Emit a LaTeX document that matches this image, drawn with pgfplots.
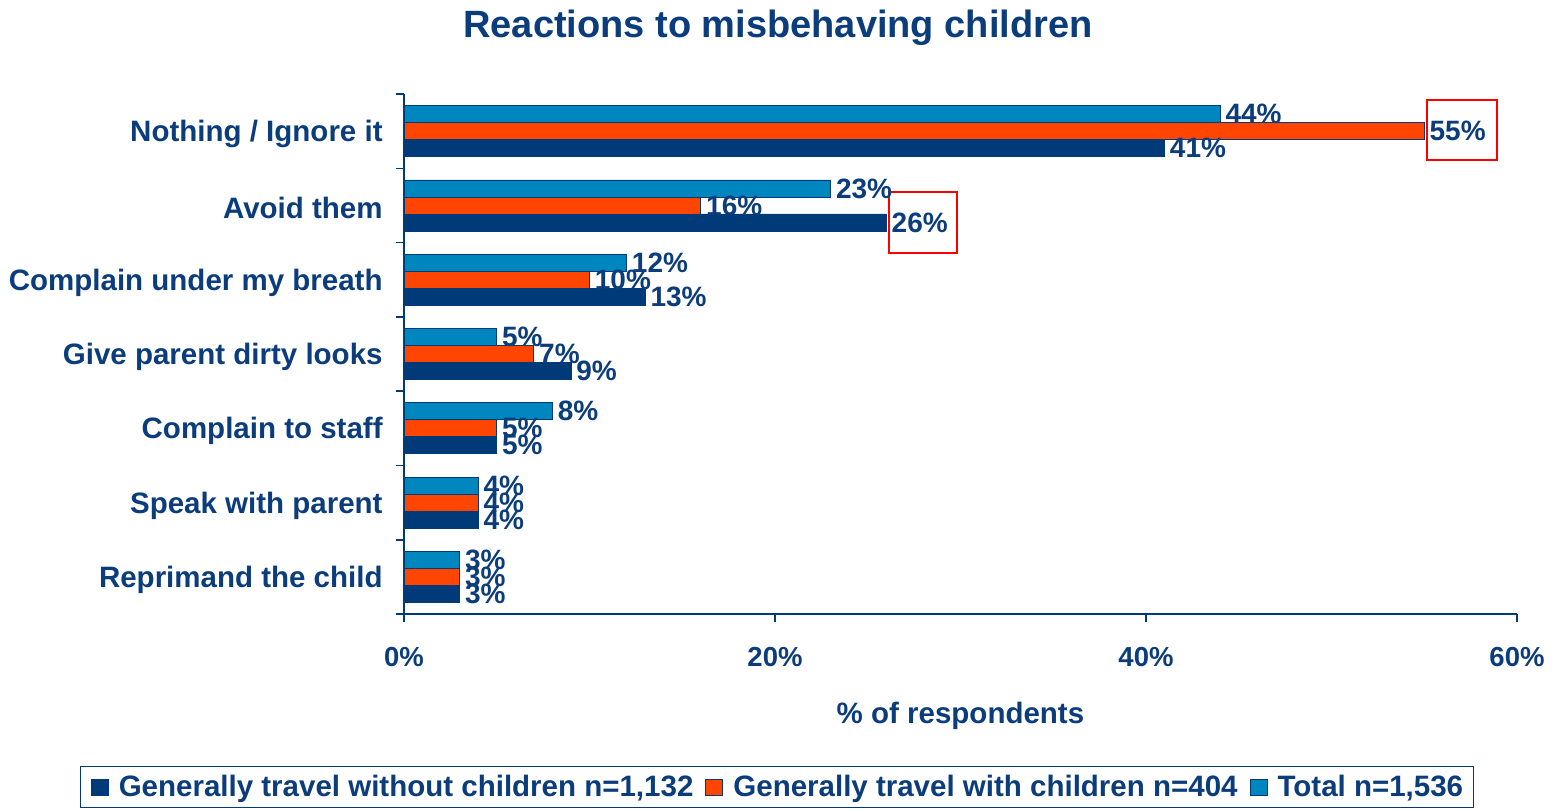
\documentclass[border=0pt]{standalone}
\usepackage{fontspec}
\setmainfont{Liberation Sans}
\usepackage{pgfplots}
\pgfplotsset{compat=1.18}
\definecolor{navy}{HTML}{003A78}
\definecolor{orng}{HTML}{FF4500}
\definecolor{blu}{HTML}{0086BF}
\definecolor{txt}{HTML}{0B3C7C}
\begin{document}
\begin{tikzpicture}
\useasboundingbox (-202pt,-97.5pt) rectangle (575.5pt,307pt);
\begin{axis}[
 at={(0,0)}, anchor=south west, scale only axis, width=556.5pt, height=260pt,
 /pgf/number format/assume math mode=true,
 xbar=0pt, bar width=8.5pt,
 xmin=0, xmax=60, ymin=-0.5, ymax=6.5,
 clip=false,
 axis lines*=left, axis line style={navy, line width=0.8pt},
 xtick={0,20,40,60}, xticklabel={\pgfmathprintnumber{\tick}\%},
 ytick={0,...,6},
 yticklabels={Reprimand the child, Speak with parent, Complain to staff, Give parent dirty looks, Complain under my breath, Avoid them, Nothing / Ignore it},
 minor ytick={-0.5,0.5,...,6.5},
 tick align=outside, major tick length=4pt, minor tick length=4pt,
 tick style={navy, line width=0.8pt},
 major y tick style={draw=none},
 xticklabel style={font=\fontsize{13.75}{16}\selectfont\bfseries, text=txt, anchor=center, yshift=-17.5pt},
 yticklabel style={font=\fontsize{14.75}{17}\selectfont\bfseries, text=txt, anchor=east, inner sep=0pt, xshift=-6.5pt, yshift=-1.5pt},
 title={Reactions to misbehaving children},
 title style={at={(0.336,1.1346)}, anchor=center, yshift=-8pt, font=\fontsize{19}{22}\selectfont\bfseries, text=txt},
 xlabel={\% of respondents},
 xlabel style={at={(axis description cs:0.5,-0.1904)}, anchor=center, yshift=-1.5pt, font=\fontsize{14.75}{17}\selectfont\bfseries, text=txt},
 nodes near coords={\pgfmathprintnumber{\pgfplotspointmeta}\%},
 point meta=x,
 every node near coord/.append style={font=\fontsize{14}{16}\selectfont\bfseries, text=txt, anchor=west, inner sep=2.5pt},
 legend style={at={(0.3351,-0.3327)}, anchor=center, draw=navy, line width=0.6pt, legend columns=-1,
   font=\fontsize{14.75}{17}\selectfont\bfseries, text=txt, inner xsep=5pt, inner ysep=4pt,
   nodes={inner sep=0pt},
   /tikz/every odd column/.append style={column sep=5pt},
   /tikz/every even column/.append style={column sep=6pt}},
 legend image code/.code={\draw[#1, line width=0.5pt] (0pt,-4pt) rectangle (8.5pt,4pt);},
]
\addplot[fill=navy, draw=navy] coordinates {(3,0) (4,1) (5,2) (9,3) (13,4) (26,5) (41,6)};
\addlegendentry{Generally travel without children n=1,132}
\addplot[fill=orng, draw=navy] coordinates {(3,0) (4,1) (5,2) (7,3) (10,4) (16,5) (55,6)};
\addlegendentry{Generally travel with children n=404}
\addplot[fill=blu, draw=navy] coordinates {(3,0) (4,1) (8,2) (5,3) (12,4) (23,5) (44,6)};
\addlegendentry{Total n=1,536}
\draw[red, line width=1pt] (axis cs:55.15,5.61) rectangle (axis cs:58.92,6.42);
\draw[red, line width=1pt] (axis cs:26.15,4.36) rectangle (axis cs:29.81,5.18);
\end{axis}
\end{tikzpicture}
\end{document}
